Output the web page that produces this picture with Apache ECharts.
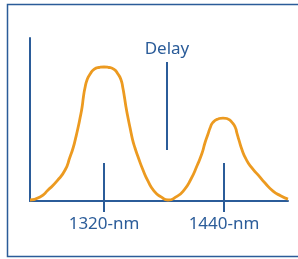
<!DOCTYPE html>
<html>
<head>
<meta charset="utf-8">
<script src="https://cdn.jsdelivr.net/npm/echarts@6/dist/echarts.min.js"></script>
<style>
  html, body { margin: 0; padding: 0; background: #fff; }
  #chart { width: 298px; height: 259px; }
</style>
</head>
<body>
<div id="chart"></div>
<script>
// spectrum curve, x in 0..100, intensity 0..100
const curveX = [0, 3.9, 7.0, 10.5, 13.6, 15.5, 16.7, 17.6, 18.6, 19.4, 20.2, 20.7, 21.3, 22.1, 23.3, 24.8, 26.7, 28.7,
  30.6, 32.6, 34.1, 35.3, 36.0, 36.6, 37.2, 38.0, 38.8, 39.7, 40.7, 41.9, 43.8, 45.7, 48.1, 50.8, 53.5,
  56.6, 59.7, 62.4, 64.7, 66.7, 67.8, 69.0, 69.8, 70.9, 72.9, 74.8,
  76.7, 78.3, 79.5, 80.2, 81.0, 82.2, 83.7, 85.7, 88.4, 91.1, 94.2, 97.3, 100]
const curveY = [0.6, 2.5, 6.7, 12.3, 19.0, 27.0, 32.5, 38.0, 44.8, 50.9, 57.7, 63.8, 69.3, 74.2, 77.9, 80.7, 81.9, 82.2,
  81.9, 80.7, 77.9, 74.2, 69.3, 63.8, 57.7, 50.9, 44.8, 38.0, 32.5, 27.0, 19.0, 12.3, 6.1, 2.5, 0.6,
  2.5, 6.7, 13.5, 21.5, 29.4, 35.6, 41.1, 44.8, 48.2, 50.3, 50.9,
  50.3, 48.2, 45.4, 41.7, 37.4, 31.3, 25.8, 20.9, 16.0, 11.0, 6.1, 3.1, 1.2]

const tickValues = [28.7, 75.2]
const tickLabels = ["1320-nm", "1440-nm"]
const tickHeight = 23.3

const delayX = 53.1
const delayRange = [31.3, 85.3]
const delayLabel = "Delay"

const blue = "#2b5c99"
const orange = "#ec9a20"
const font = "'Noto Sans', sans-serif"

const chart = echarts.init(document.getElementById("chart"))

const tickLines = tickValues.map(v => [
  { coord: [v, 0] },
  { coord: [v, tickHeight] }
])
const delayLine = [
  { coord: [delayX, delayRange[0]] },
  {
    coord: [delayX, delayRange[1]],
    label: {
      show: true,
      position: "end",
      distance: 4,
      formatter: delayLabel,
      color: blue,
      fontSize: 17,
      fontFamily: font
    }
  }
]

const option = {
  animation: false,
  graphic: [
    {
      type: "rect",
      shape: { x: 7.5, y: 4.5, width: 300, height: 252 },
      style: { fill: "none", stroke: blue, lineWidth: 1.5 }
    }
  ],
  grid: { left: 30, top: 38, right: 10, bottom: 58 },
  xAxis: {
    type: "value",
    min: 0,
    max: 100,
    splitLine: { show: false },
    axisLine: { lineStyle: { color: blue, width: 2 } },
    axisTick: {
      customValues: tickValues,
      length: 11,
      lineStyle: { color: blue, width: 2 }
    },
    axisLabel: {
      customValues: tickValues,
      formatter: v => tickLabels[tickValues.indexOf(v)],
      color: blue,
      fontSize: 17,
      fontFamily: font,
      margin: 15
    }
  },
  yAxis: {
    type: "value",
    min: 0,
    max: 100,
    splitLine: { show: false },
    axisTick: { show: false },
    axisLabel: { show: false },
    axisLine: { show: true, lineStyle: { color: blue, width: 2 } }
  },
  series: [
    {
      type: "line",
      showSymbol: false,
      smooth: 0.6,
      lineStyle: { color: orange, width: 2.8 },
      data: curveX.map((x, i) => [x, curveY[i]]),
      markLine: {
        silent: true,
        symbol: "none",
        label: { show: false },
        lineStyle: { color: blue, width: 2, type: "solid" },
        data: tickLines.concat([delayLine])
      }
    }
  ]
}
chart.setOption(option)
</script>
</body>
</html>
